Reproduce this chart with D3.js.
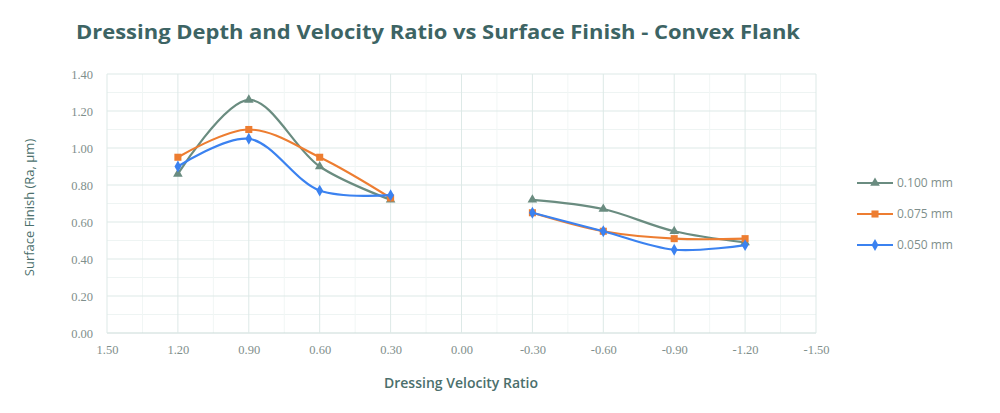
<!DOCTYPE html>
<html>
<head>
<meta charset="utf-8">
<script src="https://cdn.jsdelivr.net/npm/d3@7"></script>
<style>
  body { margin: 0; background: #fff; }
  text { font-family: "Open Sans", "Noto Sans", sans-serif; }
</style>
</head>
<body>
<svg id="chart" width="1000" height="413"></svg>
<script>
// data
let ratios = [1.2, 0.9, 0.6, 0.3, -0.3, -0.6, -0.9, -1.2]
let depth100 = [0.86, 1.26, 0.90, 0.72, 0.72, 0.67, 0.55, 0.49]
let depth075 = [0.95, 1.10, 0.95, 0.73, 0.65, 0.55, 0.51, 0.51]
let depth050 = [0.90, 1.05, 0.77, 0.745, 0.65, 0.55, 0.45, 0.475]
let seriesNames = ["0.100 mm", "0.075 mm", "0.050 mm"]
let xTicks = [1.5, 1.2, 0.9, 0.6, 0.3, 0, -0.3, -0.6, -0.9, -1.2, -1.5]
let yTicks = [0, 0.2, 0.4, 0.6, 0.8, 1.0, 1.2, 1.4]

let colors = ["#6a8c80", "#ed7d31", "#3b82f0"]
let symbols = [d3.symbolTriangle, d3.symbolSquare, d3.symbolDiamond]

let svg = d3.select("#chart")

let plot = { left: 107, right: 816, top: 74, bottom: 333 }

let xScale = d3.scaleLinear().domain([1.5, -1.5]).range([plot.left, plot.right])
let yScale = d3.scaleLinear().domain([0, 1.4]).range([plot.bottom, plot.top])

// excel style number labels, plain hyphen for negatives
let fmt = d => d3.format(".2f")(d).replace("−", "-")

// minor gridlines
svg.append("g")
    .selectAll("line")
    .data(d3.range(0.1, 1.4, 0.2))
    .enter().append("line")
    .attr("x1", plot.left).attr("x2", plot.right)
    .attr("y1", d => yScale(d)).attr("y2", d => yScale(d))
    .attr("stroke", "#eef4f3").attr("stroke-width", 1)

svg.append("g")
    .selectAll("line")
    .data(d3.range(-1.35, 1.5, 0.3))
    .enter().append("line")
    .attr("x1", d => xScale(d)).attr("x2", d => xScale(d))
    .attr("y1", plot.top).attr("y2", plot.bottom)
    .attr("stroke", "#f1f6f5").attr("stroke-width", 1)

// major gridlines
svg.append("g")
    .selectAll("line")
    .data(yTicks)
    .enter().append("line")
    .attr("x1", plot.left).attr("x2", plot.right)
    .attr("y1", d => yScale(d)).attr("y2", d => yScale(d))
    .attr("stroke", d => d == 0 ? "#c9dad7" : "#dde9e7").attr("stroke-width", 1)

svg.append("g")
    .selectAll("line")
    .data(xTicks)
    .enter().append("line")
    .attr("x1", d => xScale(d)).attr("x2", d => xScale(d))
    .attr("y1", plot.top).attr("y2", plot.bottom)
    .attr("stroke", "#dde9e7").attr("stroke-width", 1)

// axes labels via d3 axes
let xAxis = d3.axisBottom(xScale).tickValues(xTicks).tickFormat(fmt).tickSize(0).tickPadding(12)
let yAxis = d3.axisLeft(yScale).tickValues(yTicks).tickFormat(fmt).tickSize(0).tickPadding(14)

let xg = svg.append("g").attr("transform", `translate(0,${plot.bottom})`).call(xAxis)
let yg = svg.append("g").attr("transform", `translate(${plot.left},0)`).call(yAxis)
for (let g of [xg, yg]) {
    g.select(".domain").remove()
    g.selectAll("text").style("font-size", "12.5px").attr("fill", "#7f8f8c")
        .style("font-family", "'Liberation Serif', serif")
}

// title
svg.append("text")
    .attr("x", 438).attr("y", 39)
    .style("text-anchor", "middle")
    .style("font-size", "20px").style("font-weight", "bold")
    .attr("fill", "#3d6464")
    .attr("textLength", 724).attr("lengthAdjust", "spacingAndGlyphs")
    .text("Dressing Depth and Velocity Ratio vs Surface Finish - Convex Flank")

// x label
svg.append("text")
    .attr("x", 461).attr("y", 388)
    .style("text-anchor", "middle")
    .style("font-size", "14px").style("font-weight", "600")
    .attr("fill", "#4b6f6c")
    .text("Dressing Velocity Ratio")

// y label
svg.append("text")
    .attr("transform", `translate(34, ${(plot.top + plot.bottom) / 2 + 4}) rotate(-90)`)
    .style("text-anchor", "middle")
    .style("font-size", "13px")
    .attr("fill", "#4b6f6c")
    .text("Surface Finish (Ra, μm)")

// series lines, split into two groups at the gap around 0
let allSeries = [depth100, depth075, depth050]
let line = d3.line()
    .x(d => xScale(d.x))
    .y(d => yScale(d.y))
    .curve(d3.curveCatmullRom.alpha(0.5))

allSeries.forEach(function (vals, i) {
    let pts = ratios.map((r, j) => ({ x: r, y: vals[j] }))
    let parts = [pts.filter(p => p.x > 0), pts.filter(p => p.x < 0)]
    parts.forEach(function (part) {
        svg.append("path")
            .datum(part)
            .attr("d", line)
            .attr("fill", "none")
            .attr("stroke", colors[i])
            .attr("stroke-width", 2.2)
    })
    svg.append("g").selectAll("path")
        .data(pts)
        .enter().append("path")
        .attr("transform", d => `translate(${xScale(d.x)},${yScale(d.y)})`)
        .attr("d", d3.symbol().type(symbols[i]).size(i == 1 ? 50 : 40))
        .attr("fill", colors[i])
})

// legend
let legend = svg.append("g")
seriesNames.forEach(function (name, i) {
    let y = 183 + i * 31
    legend.append("line")
        .attr("x1", 857).attr("x2", 893).attr("y1", y).attr("y2", y)
        .attr("stroke", colors[i]).attr("stroke-width", 2.2)
    legend.append("path")
        .attr("transform", `translate(875,${y})`)
        .attr("d", d3.symbol().type(symbols[i]).size(i == 1 ? 50 : 40))
        .attr("fill", colors[i])
    legend.append("text")
        .attr("x", 897).attr("y", y + 4)
        .style("font-size", "12px")
        .attr("fill", "#7f8f8c")
        .text(name)
})
</script>
</body>
</html>
